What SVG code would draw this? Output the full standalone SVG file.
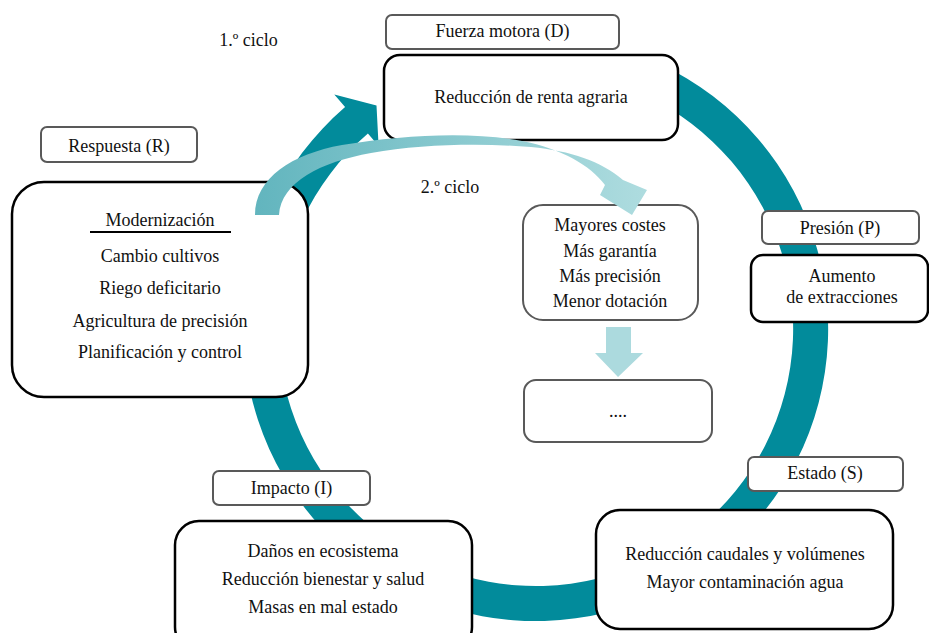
<svg xmlns="http://www.w3.org/2000/svg" width="929" height="633" viewBox="0 0 929 633" font-family="'Liberation Serif', 'DejaVu Serif', serif">
  <style>
    text { font-family: "Liberation Serif", "DejaVu Serif", serif; font-size: 18px; fill: #111; text-anchor: middle; }
    .tag rect { fill: #fff; stroke: #595959; stroke-width: 2; }
    .main rect { fill: #fff; stroke: #000; stroke-width: 2.5; }
    .sub rect { fill: #fff; stroke: #595959; stroke-width: 2; }
    .ring { fill: #028B9B; }
    .light { fill: #ACDADE; }
  </style>
  <defs>
    <linearGradient id="cycle2" gradientUnits="userSpaceOnUse" x1="255" y1="0" x2="645" y2="0">
      <stop offset="0" stop-color="#62B5BE"/>
      <stop offset="1" stop-color="#AEDCDF"/>
    </linearGradient>
  </defs>

  <!-- main DPSIR cycle arrow (clockwise band with head at top-left) -->
  <g id="connectors">
    <path class="ring" d="M659.33,63.70 A292.4,292.4 0 1 1 345.09,107.03 L334.3,94.45 L376.5,105.5 L378.6,146.0 L367.91,133.56 A257.4,257.4 0 1 0 644.54,95.42 Z"/>
  </g>

  <g id="label-d" class="tag">
    <rect x="386" y="15" width="233" height="34" rx="6"/>
    <text x="502.5" y="37">Fuerza motora (D)</text>
  </g>
  <g id="node-d" class="main">
    <rect x="384" y="55" width="294" height="85" rx="16"/>
    <text x="531" y="103">Reducción de renta agraria</text>
  </g>

  <g id="cycle-1">
    <text x="248.5" y="46">1.º ciclo</text>
  </g>
  <g id="cycle-2-label">
    <text x="450" y="193">2.º ciclo</text>
  </g>

  <g id="label-r" class="tag">
    <rect x="41" y="127" width="156" height="35" rx="6"/>
    <text x="119" y="152">Respuesta (R)</text>
  </g>
  <g id="node-r" class="main">
    <rect x="12" y="182" width="296" height="215" rx="32"/>
    <text x="160" y="226">Modernización</text>
    <line x1="90" y1="232" x2="231" y2="232" stroke="#000" stroke-width="2"/>
    <text x="160" y="262">Cambio cultivos</text>
    <text x="160" y="294">Riego deficitario</text>
    <text x="160" y="327">Agricultura de precisión</text>
    <text x="160" y="358">Planificación y control</text>
  </g>

  <g id="label-p" class="tag">
    <rect x="762" y="211" width="157" height="33" rx="6"/>
    <text x="840" y="234">Presión (P)</text>
  </g>
  <g id="node-p" class="main">
    <rect x="751" y="255" width="177" height="67" rx="12"/>
    <text x="842" y="282">Aumento</text>
    <text x="842" y="303">de extracciones</text>
  </g>

  <g id="label-s" class="tag">
    <rect x="748" y="457" width="155" height="34" rx="6"/>
    <text x="825" y="479">Estado (S)</text>
  </g>
  <g id="node-s" class="main">
    <rect x="596" y="510" width="297" height="119" rx="24"/>
    <text x="745" y="560">Reducción caudales y volúmenes</text>
    <text x="745" y="588">Mayor contaminación agua</text>
  </g>

  <g id="label-i" class="tag">
    <rect x="213" y="471" width="157" height="34" rx="6"/>
    <text x="291.5" y="494">Impacto (I)</text>
  </g>
  <g id="node-i" class="main">
    <rect x="175" y="521" width="297" height="130" rx="24"/>
    <text x="323" y="557">Daños en ecosistema</text>
    <text x="323" y="585">Reducción bienestar y salud</text>
    <text x="323" y="613">Masas en mal estado</text>
  </g>

  <g id="node-effects" class="sub">
    <rect x="523" y="205" width="175" height="115" rx="20"/>
    <text x="610" y="231">Mayores costes</text>
    <text x="610" y="257">Más garantía</text>
    <text x="610" y="282">Más precisión</text>
    <text x="610" y="307">Menor dotación</text>
  </g>
  <g id="node-next" class="sub">
    <rect x="524" y="380" width="188" height="62" rx="12"/>
    <text x="618" y="417">....</text>
  </g>

  <!-- second-cycle arrows -->
  <g id="connectors-2">
    <path fill="url(#cycle2)" d="M255,215 C255,178 292,154 342,145 C402,135 470,131 522,141 C562,149 590,165 605,185 L600,195 L632,215 L647,190 L623,180 C601,161 571,151 531,147 C481,143 421,144 371,153 C321,162 281,182 279,215 Z"/>
    <polygon class="light" points="606,327 631,327 631,353 643,353 618,377 595,353 606,353"/>
  </g>
</svg>
